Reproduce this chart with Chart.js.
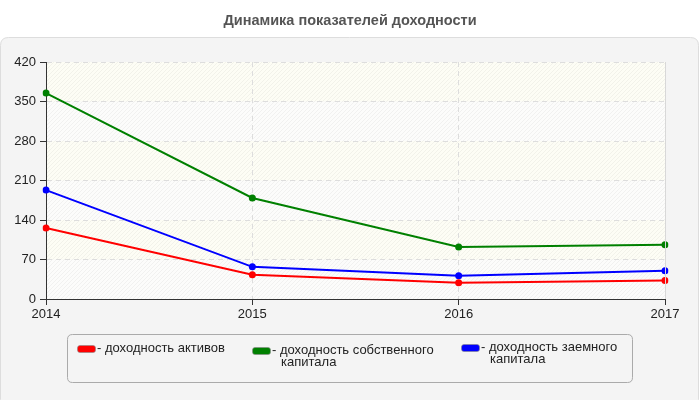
<!DOCTYPE html>
<html><head><meta charset="utf-8">
<script src="https://cdn.jsdelivr.net/npm/chart.js@4/dist/chart.umd.min.js"></script>
<style>html,body{margin:0;padding:0;background:#fff}#wrap{width:700px;height:400px}</style>
</head><body><div id="wrap"><canvas id="c" width="700" height="400"></canvas></div>
<script>
const titleText = 'Динамика показателей доходности';
const years = ['2014', '2015', '2016', '2017'];
const assetsReturn = [126, 43, 29, 33];
const equityReturn = [365, 179, 92, 96];
const debtReturn = [193, 57, 41, 50];
const seriesNames = [['- доходность активов'], ['- доходность собственного', 'капитала'], ['- доходность заемного', 'капитала']];
const seriesColors = ['#ff0000', '#008000', '#0000ff'];

const FONT = 'Arial, "Liberation Sans", sans-serif';

function rr(ctx, x, y, w, h, r) {
  ctx.beginPath();
  ctx.moveTo(x + r, y);
  ctx.lineTo(x + w - r, y); ctx.quadraticCurveTo(x + w, y, x + w, y + r);
  ctx.lineTo(x + w, y + h - r); ctx.quadraticCurveTo(x + w, y + h, x + w - r, y + h);
  ctx.lineTo(x + r, y + h); ctx.quadraticCurveTo(x, y + h, x, y + h - r);
  ctx.lineTo(x, y + r); ctx.quadraticCurveTo(x, y, x + r, y);
  ctx.closePath();
}

function hatch() {
  const p = document.createElement('canvas');
  p.width = 4; p.height = 4;
  const g = p.getContext('2d');
  g.strokeStyle = 'rgba(0,0,0,0.045)'; g.lineWidth = 1;
  g.beginPath(); g.moveTo(0, 4); g.lineTo(4, 0); g.moveTo(-2, 2); g.lineTo(2, -2); g.moveTo(2, 6); g.lineTo(6, 2); g.stroke();
  return p;
}

const bgPlugin = {
  id: 'bg',
  beforeDraw(chart) {
    const ctx = chart.ctx, a = chart.chartArea, ys = chart.scales.y;
    ctx.save();
    ctx.fillStyle = '#ffffff'; ctx.fillRect(0, 0, 700, 400);
    rr(ctx, 0.5, 37.5, 698, 370, 8);
    ctx.fillStyle = '#f4f4f4'; ctx.fill();
    ctx.strokeStyle = '#dddddd'; ctx.lineWidth = 1; ctx.stroke();
    // alternating bands
    const ticks = ys.ticks.map(t => t.value);
    for (let i = 0; i < ticks.length - 1; i++) {
      const y1 = ys.getPixelForValue(ticks[i + 1]), y0 = ys.getPixelForValue(ticks[i]);
      ctx.fillStyle = (i % 2 === 1) ? '#fdfdf5' : '#fcfcfb';
      ctx.fillRect(a.left, y1, a.right - a.left, y0 - y1);
    }
    ctx.fillStyle = ctx.createPattern(hatch(), 'repeat');
    ctx.fillRect(a.left, a.top, a.right - a.left, a.bottom - a.top);
    // title
    ctx.fillStyle = '#555555';
    ctx.font = 'bold 14.5px ' + FONT;
    ctx.textAlign = 'center'; ctx.textBaseline = 'middle';
    ctx.fillText(titleText, 350, 21);
    ctx.restore();
  },
  afterDraw(chart) {
    const ctx = chart.ctx, a = chart.chartArea;
    ctx.save();
    ctx.strokeStyle = '#d8d8d8'; ctx.lineWidth = 1;
    ctx.beginPath();
    ctx.moveTo(Math.round(a.right) + 0.5, a.top); ctx.lineTo(Math.round(a.right) + 0.5, a.bottom);
    ctx.stroke();
    // legend box
    rr(ctx, 67.5, 334.5, 565, 48, 5);
    ctx.fillStyle = '#f4f4f4'; ctx.fill();
    ctx.strokeStyle = '#aaaaaa'; ctx.lineWidth = 1; ctx.stroke();
    const items = [
      {sx: 77, sy: 345, tx: 97, ty: 348},
      {sx: 252, sy: 347, tx: 272, ty: 350},
      {sx: 461, sy: 344, tx: 481, ty: 347}
    ];
    ctx.font = '13px ' + FONT;
    ctx.textBaseline = 'middle'; ctx.textAlign = 'left';
    items.forEach((it, i) => {
      rr(ctx, it.sx + 0.5, it.sy + 0.5, 18, 7, 2.5);
      ctx.fillStyle = seriesColors[i]; ctx.fill();
      ctx.strokeStyle = '#888'; ctx.lineWidth = 0.6; ctx.stroke();
      ctx.fillStyle = '#222';
      seriesNames[i].forEach((line, j) => {
        ctx.fillText(line, j === 0 ? it.tx : it.tx + 9, it.ty + j * 12.5);
      });
    });
    ctx.restore();
  }
};

const mk = (label, data, color) => ({
  label, data, borderColor: color, backgroundColor: color,
  borderWidth: 2, pointRadius: 3.5, pointHoverRadius: 3.5, pointBorderWidth: 0,
  tension: 0, fill: false
});

new Chart(document.getElementById('c'), {
  type: 'line',
  data: {
    labels: years,
    datasets: [
      mk(seriesNames[0].join(' '), assetsReturn, seriesColors[0]),
      mk(seriesNames[1].join(' '), equityReturn, seriesColors[1]),
      mk(seriesNames[2].join(' '), debtReturn, seriesColors[2])
    ]
  },
  options: {
    responsive: false, animation: false, devicePixelRatio: 1,
    layout: {padding: {left: 8, right: 35, top: 62, bottom: 0}},
    plugins: {legend: {display: false}, title: {display: false}, tooltip: {enabled: false}},
    scales: {
      x: {
        offset: false,
        afterFit(s) { s.height = 101; },
        grid: {
          color: ctx => (ctx.index === 0 || ctx.index === 3) ? 'rgba(0,0,0,0)' : '#dddddd',
          tickColor: '#333', tickLength: 6, tickBorderDash: []
        },
        border: {color: '#333', width: 1, dash: [5, 4]},
        ticks: {color: '#222', font: {family: FONT, size: 13}, padding: 2, maxRotation: 0}
      },
      y: {
        min: 0, max: 420,
        afterFit(s) { s.width = 38; },
        grid: {
          color: ctx => ctx.index === 0 ? 'rgba(0,0,0,0)' : '#dddddd',
          tickColor: '#333', tickLength: 6, tickBorderDash: []
        },
        border: {color: '#333', width: 1, dash: [5, 4]},
        ticks: {stepSize: 70, color: '#222', font: {family: FONT, size: 13}, padding: 4}
      }
    }
  },
  plugins: [bgPlugin]
});
</script></body></html>
